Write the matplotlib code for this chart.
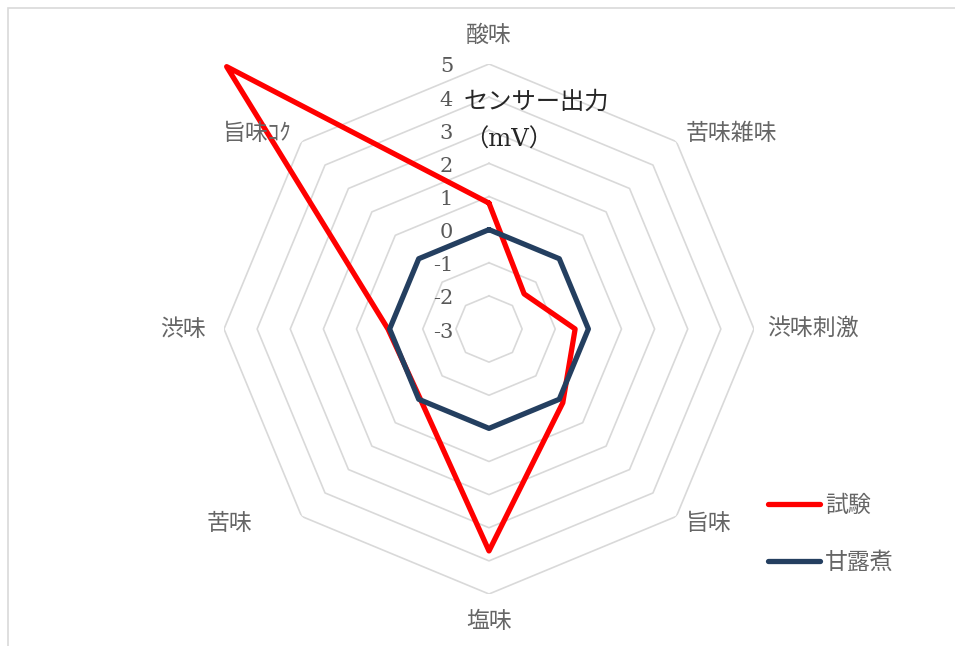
import numpy as np
import matplotlib
matplotlib.use("Agg")
import matplotlib.pyplot as plt
from matplotlib.patches import Rectangle
from matplotlib.transforms import offset_copy

plt.rcParams['font.family'] = ['Noto Sans CJK JP', 'DejaVu Sans']

# taste-sensor categories (clockwise from top)
categories = ['酸味', '苦味雑味', '渋味刺激', '旨味', '塩味', '苦味', '渋味', '旨味ｺｸ']
# sensor output (mV)
series_names = ['試験', '甘露煮']
test_values = [0.8, -1.5, -0.4, 0.15, 3.7, -0.05, 0.05, 8.2]
kanro_values = [0, 0, 0, 0, 0, 0, 0, 0]
r_ticks = [5, 4, 3, 2, 1, 0, -1, -2, -3]
r_min, r_max = -3, 5
axis_title = 'センサー出力\n（mV）'

W, H = 955, 646
fig = plt.figure(figsize=(W / 100, H / 100), dpi=100)

# chart-area border
fig.patches.append(Rectangle((7.5 / W, -0.1), 2.0, (H - 7.5) / H + 0.1,
                             transform=fig.transFigure, fill=False,
                             edgecolor='#D9D9D9', lw=1.2))

cx, cy, R = 489, 329, 265
ax = fig.add_axes([(cx - R) / W, (H - cy - R) / H, 2 * R / W, 2 * R / H],
                  projection='polar')
ax.set_theta_offset(np.pi / 2)
ax.set_theta_direction(-1)
ax.set_ylim(r_min, r_max)
ax.grid(False)
ax.set_xticks([])
ax.set_yticks([])
ax.spines['polar'].set_visible(False)
ax.patch.set_visible(False)

n = len(categories)
angles = np.linspace(0, 2 * np.pi, n, endpoint=False)
closed = np.append(angles, angles[0])

# octagonal gridlines
for v in r_ticks:
    if v > r_min:
        ax.plot(closed, [v] * (n + 1), color='#D9D9D9', lw=1.2, zorder=1)

# radial tick labels, left of the vertical axis
tick_tf = offset_copy(ax.transData, fig=fig, x=-36, y=-3, units='dots')
for v in r_ticks:
    ax.text(0, v, str(v), transform=tick_tf, ha='right', va='center',
            fontsize=15, color='#595959', family='DejaVu Serif')

ax.text(0, 4, axis_title, transform=offset_copy(ax.transData, fig=fig, x=-25, y=-24, units='dots'),
        ha='left', va='center', fontsize=17.5, color='#262626', linespacing=1.8,
        family=['DejaVu Serif', 'Noto Sans CJK JP'])

colors = ['#FF0000', '#243F60']
for vals, name, col in zip([test_values, kanro_values], series_names, colors):
    ax.plot(closed, np.append(vals, vals[0]), color=col, lw=3.8, label=name,
            solid_joinstyle='round', solid_capstyle='round', clip_on=False, zorder=3)

# category labels
label_pos = [(489, 35, 'center'), (686, 133, 'left'), (767, 329, 'left'),
             (686, 523, 'left'), (489, 622, 'center'), (252, 523, 'right'),
             (206, 329, 'right'), (292, 133, 'right')]
for lab, (x, y, ha) in zip(categories, label_pos):
    fig.text(x / W, 1 - y / H, lab, ha=ha, va='center', fontsize=16.5, color='#666666')

leg = fig.legend(loc='upper left', bbox_to_anchor=(768 / W, 1 - 494 / H),
                 frameon=False, fontsize=16.5, handlelength=2.25, handletextpad=0.25,
                 labelspacing=1.5, borderpad=0, borderaxespad=0)
for t in leg.get_texts():
    t.set_color('#666666')

fig.savefig('out.png', dpi=100)
